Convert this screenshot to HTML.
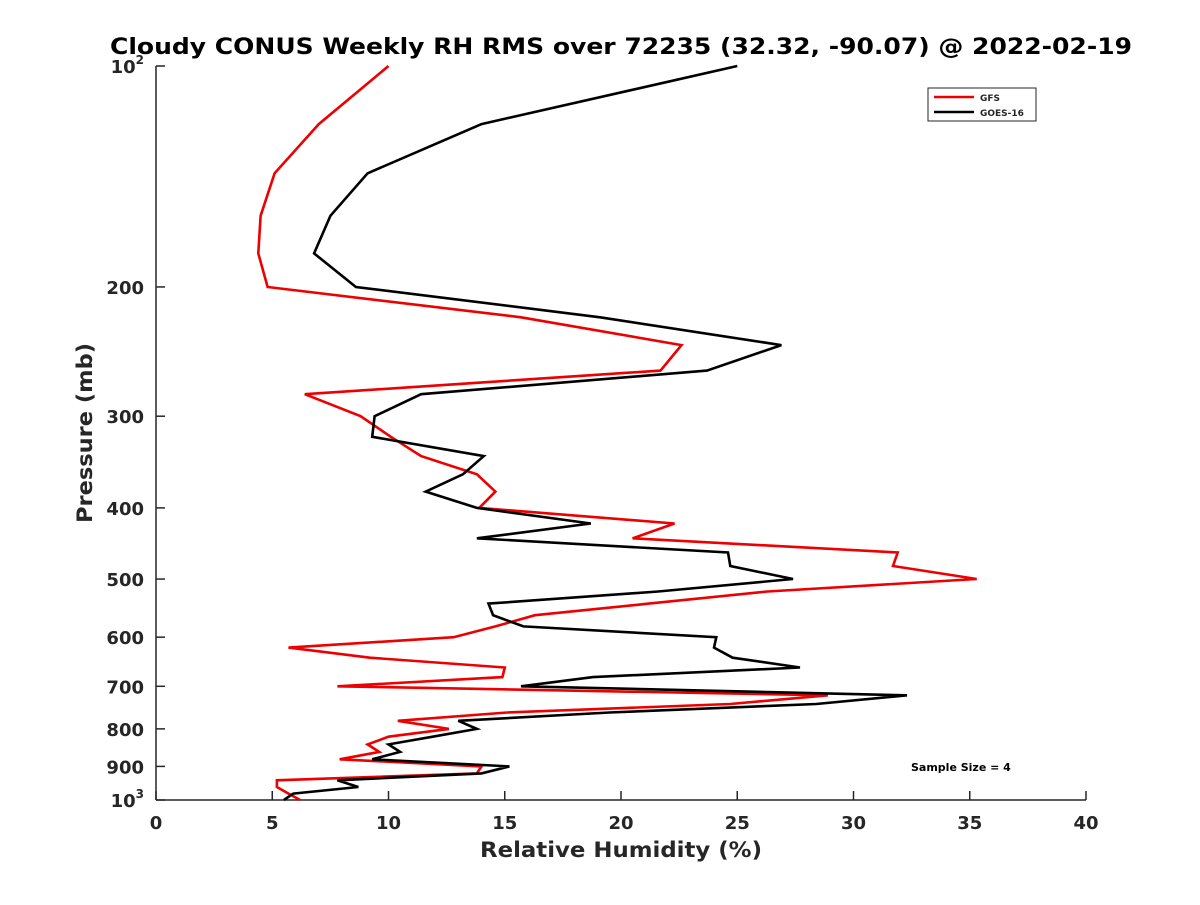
<!DOCTYPE html>
<html><head><meta charset="utf-8"><style>
body{margin:0;background:#fff}
svg text{font-family:"DejaVu Sans","Liberation Sans",sans-serif;font-weight:bold;fill:#262626}
</style></head><body>
<svg id="chart" width="1200" height="900" viewBox="0 0 1200 900" xmlns="http://www.w3.org/2000/svg">
<rect width="1200" height="900" fill="#fff"/>
<text x="621" y="54" text-anchor="middle" font-size="22" textLength="1022" lengthAdjust="spacingAndGlyphs" style="fill:#000">Cloudy CONUS Weekly RH RMS over 72235 (32.32, -90.07) @ 2022-02-19</text>
<g id="axes"></g>
<g id="series"></g>
<text x="621" y="857" text-anchor="middle" font-size="21" textLength="282" lengthAdjust="spacingAndGlyphs">Relative Humidity (%)</text>
<text transform="translate(92,433) rotate(-90)" text-anchor="middle" font-size="21" textLength="180" lengthAdjust="spacingAndGlyphs">Pressure (mb)</text>
<g>
<rect x="928" y="88" width="108" height="33" fill="#fff" stroke="#262626" stroke-width="1"/>
<line x1="934" y1="97" x2="974" y2="97" stroke="#e00" stroke-width="2.5"/>
<text x="980" y="101" font-size="9">GFS</text>
<line x1="934" y1="112" x2="974" y2="112" stroke="#000" stroke-width="2.5"/>
<text x="980" y="116" font-size="9">GOES-16</text>
</g>
<text x="911" y="771" font-size="11" style="fill:#000">Sample Size = 4</text>
</svg>
<script>
const pressureLevels=[100,120,140,160,180,200,220,240,260,280,300,320,340,360,380,400,420,440,460,480,500,520,540,560,580,600,620,640,660,680,700,720,740,760,780,800,820,840,860,880,900,920,940,960,980,1000];
const gfsRH=[10.0,7.0,5.1,4.5,4.4,4.8,15.7,22.6,21.7,6.4,8.8,10.1,11.4,13.8,14.6,13.9,22.3,20.5,31.9,31.7,35.3,26.3,21.2,16.3,14.6,12.8,5.7,9.2,15.0,14.9,7.8,28.9,24.7,15.1,10.4,12.6,10.0,9.1,9.6,7.9,14.0,13.8,5.2,5.2,5.7,6.2];
const goesRH=[25.0,14.0,9.1,7.5,6.8,8.6,19.1,26.9,23.7,11.4,9.4,9.3,14.1,13.2,11.6,13.8,18.7,13.8,24.6,24.7,27.4,21.6,14.3,14.5,15.8,24.1,24.0,24.8,27.7,18.8,15.7,32.3,28.4,19.5,13.0,13.8,11.9,10.0,10.5,9.3,15.2,14.0,7.8,8.7,5.9,5.5];
const xTicks=[0,5,10,15,20,25,30,35,40];
const yTicks=[100,200,300,400,500,600,700,800,900,1000];
const yTickLabels=["10²","200","300","400","500","600","700","800","900","10³"];
const X0=156,X1=1086,Y0=66,Y1=800;
const xs=v=>X0+(v-0)/40*(X1-X0);
const ys=p=>Y0+(Math.log10(p)-2)*(Y1-Y0);
const NS="http://www.w3.org/2000/svg";
const ax=document.getElementById('axes');
function mk(t,a,parent){const e=document.createElementNS(NS,t);for(const k in a)e.setAttribute(k,a[k]);parent.appendChild(e);return e;}
const yl=mk('line',{x1:X0,y1:Y0,x2:X0,y2:Y1,stroke:'#262626','stroke-width':1.5},ax);


const xl=mk('line',{x1:X0,y1:Y1,x2:X1,y2:Y1,stroke:'#262626','stroke-width':1.5},ax);


xTicks.forEach(v=>{
  const x=xs(v);
  mk('line',{x1:x,y1:Y1,x2:x,y2:Y1-9,stroke:'#262626','stroke-width':1.5},ax);
  const t=mk('text',{x:x,y:Y1+29,'text-anchor':'middle','font-size':18},ax);
  t.textContent=v;
  
  
});
yTicks.forEach((p,i)=>{
  const y=ys(p);
  mk('line',{x1:X0,y1:y,x2:X0+9,y2:y,stroke:'#262626','stroke-width':1.5},ax);
  const t=mk('text',{x:X0-12,y:y+7,'text-anchor':'end','font-size':18},ax);
  const lab=yTickLabels[i];
  if(lab==="10²"||lab==="10³"){
    t.textContent="10";
    const s=mk('tspan',{dy:-9,'font-size':12},t);
    s.textContent=lab==="10²"?"2":"3";
  } else t.textContent=lab;
  
  
});
const sg=document.getElementById('series');
function line(vals,color,name){
  const pts=vals.map((v,i)=>xs(v).toFixed(1)+','+ys(pressureLevels[i]).toFixed(1)).join(' ');
  const pl=mk('polyline',{points:pts,fill:'none',stroke:color,'stroke-width':2.6,'stroke-linejoin':'miter'},sg);
  
  
}
line(gfsRH,'#e00','gfs-line');
line(goesRH,'#000','goes16-line');
</script>
</body></html>
